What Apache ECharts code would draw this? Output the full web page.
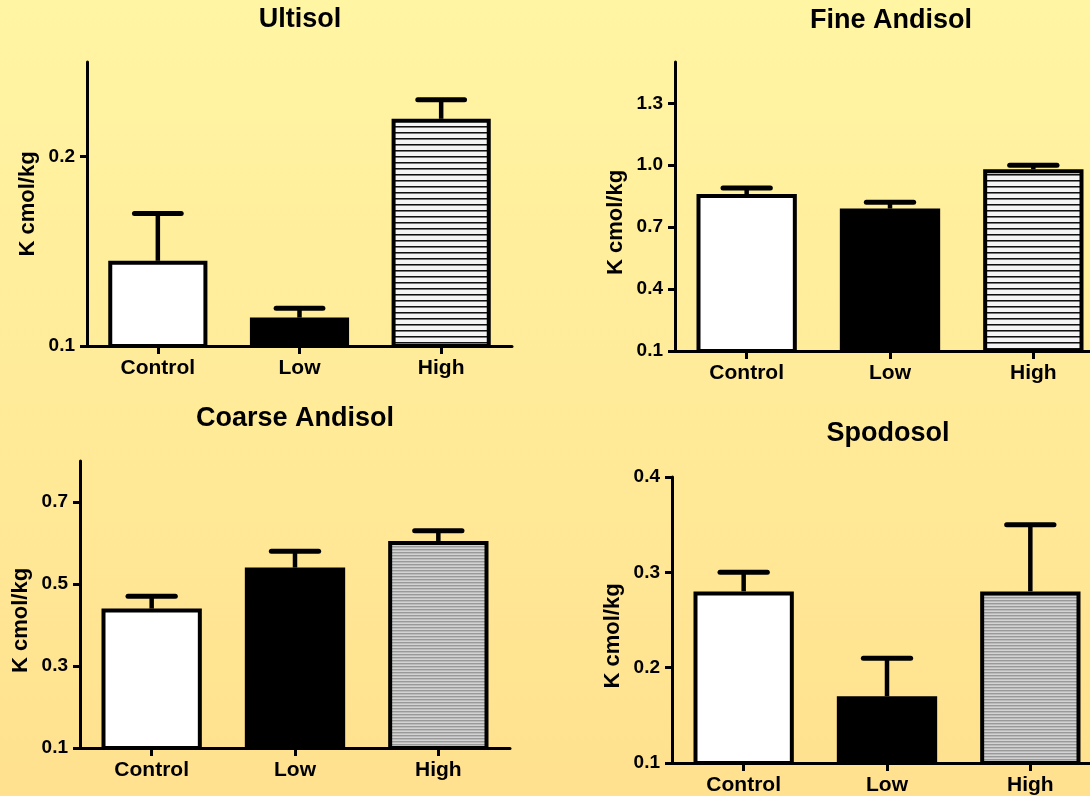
<!DOCTYPE html>
<html><head><meta charset="utf-8">
<script src="https://cdn.jsdelivr.net/npm/echarts@6/dist/echarts.min.js"></script>
<style>html,body{margin:0;padding:0;background:#FFEB9C;overflow:hidden;}#c{width:1120px;height:796px;}</style>
</head><body><div id="c"></div>
<script>
// ---- data ----
const categories = ['Control', 'Low', 'High'];
const panelTitles = ['Ultisol', 'Fine Andisol', 'Coarse Andisol', 'Spodosol'];
const yAxisName = 'K cmol/kg';

const ultisolMeans = [0.145, 0.115, 0.22];
const ultisolErr   = [0.025, 0.005, 0.01];
const ultisolTicks = [0.1, 0.2];
const ultisolRange = [0.1, 0.25];

const fineMeans = [0.86, 0.79, 0.98];
const fineErr   = [0.03, 0.03, 0.02];
const fineTicks = [0.1, 0.4, 0.7, 1.0, 1.3];
const fineRange = [0.1, 1.5];

const coarseMeans = [0.44, 0.54, 0.605];
const coarseErr   = [0.03, 0.04, 0.025];
const coarseTicks = [0.1, 0.3, 0.5, 0.7];
const coarseRange = [0.1, 0.8];

const spodMeans = [0.28, 0.17, 0.28];
const spodErr   = [0.02, 0.04, 0.07];
const spodTicks = [0.1, 0.2, 0.3, 0.4];
const spodRange = [0.1, 0.4];

// ---- fills ----
function stripe(rows) {
  const c = document.createElement('canvas');
  c.width = 4; c.height = rows.length;
  const ctx = c.getContext('2d');
  rows.forEach((col, i) => { ctx.fillStyle = col; ctx.fillRect(0, i, 4, 1); });
  return c;
}
const blackStripe = stripe(['#111111', '#777777', '#f4f4f4', '#f4f4f4', '#f4f4f4', '#f4f4f4']);
const grayStripe = stripe(['#999999', '#bbbbbb', '#d3d3d3']);

const FONT = '"Liberation Sans", Arial, sans-serif';

const panels = [
  { title: panelTitles[0], means: ultisolMeans, errs: ultisolErr, ticks: ultisolTicks, range: ultisolRange,
    grid: { left: 87, top: 62, width: 425, height: 284 }, titlePos: [300, 20], nameShift: 0, highFill: blackStripe },
  { title: panelTitles[1], means: fineMeans, errs: fineErr, ticks: fineTicks, range: fineRange,
    grid: { left: 675, top: 62, width: 430, height: 289 }, titlePos: [891, 21], nameShift: 16, highFill: blackStripe },
  { title: panelTitles[2], means: coarseMeans, errs: coarseErr, ticks: coarseTicks, range: coarseRange,
    grid: { left: 80, top: 461, width: 430, height: 287 }, titlePos: [295, 419], nameShift: 16, highFill: grayStripe },
  { title: panelTitles[3], means: spodMeans, errs: spodErr, ticks: spodTicks, range: spodRange,
    grid: { left: 672, top: 477, width: 430, height: 287 }, titlePos: [888, 434], nameShift: 16, highFill: grayStripe }
];

const chart = echarts.init(document.getElementById('c'), null, { renderer: 'canvas' });

const option = {
  backgroundColor: {
    type: 'linear', x: 0, y: 0, x2: 0, y2: 1,
    colorStops: [{ offset: 0, color: '#FFF5A3' }, { offset: 1, color: '#FFE18F' }]
  },
  animation: false,
  title: panels.map(p => ({
    text: p.title, left: p.titlePos[0], top: p.titlePos[1], padding: 0,
    textAlign: 'center', textVerticalAlign: 'middle',
    textStyle: { fontFamily: FONT, fontSize: 27, fontWeight: 'bold', color: '#000' }
  })),
  grid: panels.map(p => Object.assign({ containLabel: false }, p.grid)),
  xAxis: panels.map((p, i) => ({
    type: 'category', gridIndex: i, data: categories,
    axisLine: { show: true, lineStyle: { color: '#000', width: 3 } },
    axisTick: { show: true, alignWithLabel: true, length: 8, lineStyle: { color: '#000', width: 3 } },
    axisLabel: { fontFamily: FONT, fontSize: 21, fontWeight: 'bold', color: '#000', margin: 12 },
    splitLine: { show: false }
  })),
  yAxis: panels.map((p, i) => ({
    type: 'value', gridIndex: i, min: p.range[0], max: p.range[1],
    name: yAxisName, nameLocation: 'middle', nameRotate: 90, nameGap: 48,
    nameTextStyle: { fontFamily: FONT, fontSize: 22, fontWeight: 'bold', color: '#000',
      padding: p.nameShift ? [0, p.nameShift * 2, 0, 0] : 0 },
    axisLine: { show: true, lineStyle: { color: '#000', width: 3 } },
    axisTick: { show: true, length: 7, customValues: p.ticks, lineStyle: { color: '#000', width: 3 } },
    axisLabel: { customValues: p.ticks, formatter: v => Number(v).toFixed(1),
      fontFamily: FONT, fontSize: 19, fontWeight: 'bold', color: '#000', margin: 12 },
    splitLine: { show: false }
  })),
  series: []
};

panels.forEach((p, i) => {
  const fills = ['#ffffff', '#000000', { image: p.highFill, repeat: 'repeat' }];
  option.series.push({
    type: 'bar', xAxisIndex: i, yAxisIndex: i, barWidth: '70%', z: 2,
    data: p.means.map((v, k) => ({ value: v, itemStyle: { color: fills[k] } })),
    itemStyle: { borderColor: '#000', borderWidth: 4 }
  });
  option.series.push({
    type: 'custom', xAxisIndex: i, yAxisIndex: i, z: 3,
    encode: { x: 0, y: 1 },
    data: p.means.map((v, k) => [k, v, p.errs[k]]),
    renderItem: function (params, api) {
      const x = api.value(0), m = api.value(1), e = api.value(2);
      const p0 = api.coord([x, m]);
      const p1 = api.coord([x, m + e]);
      const half = api.size([1, 0])[0] * 0.165;
      return {
        type: 'group', children: [
          { type: 'line', shape: { x1: p0[0], y1: p0[1], x2: p1[0], y2: p1[1] },
            style: { stroke: '#000', lineWidth: 4.5 } },
          { type: 'line', shape: { x1: p1[0] - half, y1: p1[1], x2: p1[0] + half, y2: p1[1] },
            style: { stroke: '#000', lineWidth: 5, lineCap: 'round' } }
        ]
      };
    }
  });
});

chart.setOption(option);
</script>
</body></html>
